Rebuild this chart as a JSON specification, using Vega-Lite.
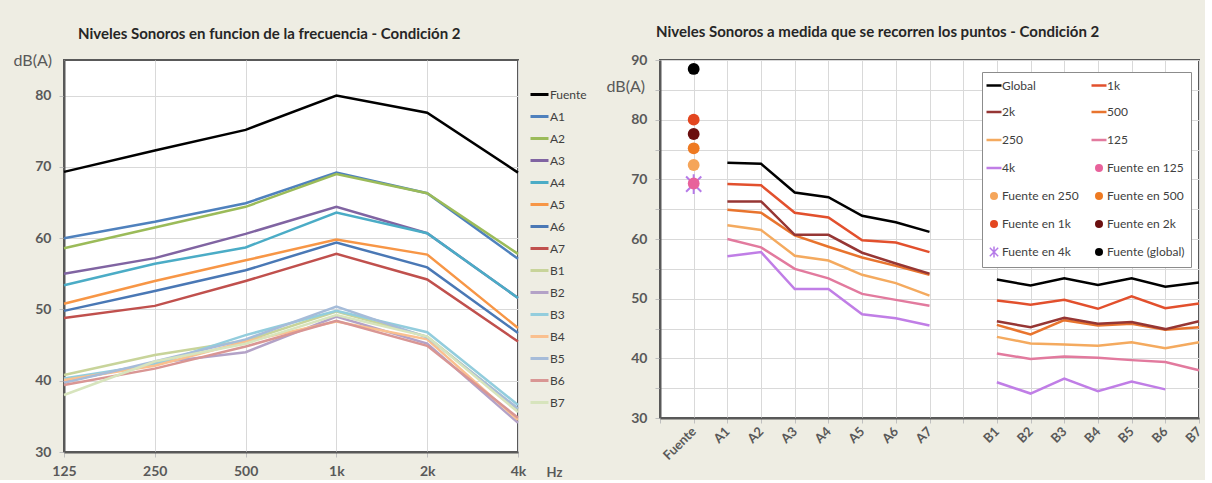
{
 "$schema": "https://vega.github.io/schema/vega-lite/v6.json",
 "padding": {"left": 12, "top": 24, "right": 0, "bottom": 0},
 "spacing": 17,
 "datasets": {
  "m": [
   {"p":"Fuente","g":"F","f":"125","v":69.3},{"p":"Fuente","g":"F","f":"250","v":72.3},{"p":"Fuente","g":"F","f":"500","v":75.2},{"p":"Fuente","g":"F","f":"1k","v":80.0},{"p":"Fuente","g":"F","f":"2k","v":77.6},{"p":"Fuente","g":"F","f":"4k","v":69.2},
   {"p":"A1","g":"A","f":"125","v":60.0},{"p":"A1","g":"A","f":"250","v":62.3},{"p":"A1","g":"A","f":"500","v":64.9},{"p":"A1","g":"A","f":"1k","v":69.2},{"p":"A1","g":"A","f":"2k","v":66.3},{"p":"A1","g":"A","f":"4k","v":57.1},
   {"p":"A2","g":"A","f":"125","v":58.6},{"p":"A2","g":"A","f":"250","v":61.5},{"p":"A2","g":"A","f":"500","v":64.4},{"p":"A2","g":"A","f":"1k","v":69.0},{"p":"A2","g":"A","f":"2k","v":66.3},{"p":"A2","g":"A","f":"4k","v":57.8},
   {"p":"A3","g":"A","f":"125","v":55.0},{"p":"A3","g":"A","f":"250","v":57.2},{"p":"A3","g":"A","f":"500","v":60.6},{"p":"A3","g":"A","f":"1k","v":64.4},{"p":"A3","g":"A","f":"2k","v":60.7},{"p":"A3","g":"A","f":"4k","v":51.6},
   {"p":"A4","g":"A","f":"125","v":53.4},{"p":"A4","g":"A","f":"250","v":56.4},{"p":"A4","g":"A","f":"500","v":58.7},{"p":"A4","g":"A","f":"1k","v":63.6},{"p":"A4","g":"A","f":"2k","v":60.7},{"p":"A4","g":"A","f":"4k","v":51.6},
   {"p":"A5","g":"A","f":"125","v":50.8},{"p":"A5","g":"A","f":"250","v":54.0},{"p":"A5","g":"A","f":"500","v":56.9},{"p":"A5","g":"A","f":"1k","v":59.8},{"p":"A5","g":"A","f":"2k","v":57.7},{"p":"A5","g":"A","f":"4k","v":47.4},
   {"p":"A6","g":"A","f":"125","v":49.8},{"p":"A6","g":"A","f":"250","v":52.6},{"p":"A6","g":"A","f":"500","v":55.5},{"p":"A6","g":"A","f":"1k","v":59.4},{"p":"A6","g":"A","f":"2k","v":55.9},{"p":"A6","g":"A","f":"4k","v":46.7},
   {"p":"A7","g":"A","f":"125","v":48.8},{"p":"A7","g":"A","f":"250","v":50.5},{"p":"A7","g":"A","f":"500","v":54.0},{"p":"A7","g":"A","f":"1k","v":57.8},{"p":"A7","g":"A","f":"2k","v":54.2},{"p":"A7","g":"A","f":"4k","v":45.5},
   {"p":"B1","g":"B","f":"125","v":40.8},{"p":"B1","g":"B","f":"250","v":43.6},{"p":"B1","g":"B","f":"500","v":45.6},{"p":"B1","g":"B","f":"1k","v":49.7},{"p":"B1","g":"B","f":"2k","v":46.2},{"p":"B1","g":"B","f":"4k","v":36.0},
   {"p":"B2","g":"B","f":"125","v":39.9},{"p":"B2","g":"B","f":"250","v":42.5},{"p":"B2","g":"B","f":"500","v":44.0},{"p":"B2","g":"B","f":"1k","v":49.0},{"p":"B2","g":"B","f":"2k","v":45.2},{"p":"B2","g":"B","f":"4k","v":34.1},
   {"p":"B3","g":"B","f":"125","v":40.3},{"p":"B3","g":"B","f":"250","v":42.3},{"p":"B3","g":"B","f":"500","v":46.4},{"p":"B3","g":"B","f":"1k","v":49.8},{"p":"B3","g":"B","f":"2k","v":46.8},{"p":"B3","g":"B","f":"4k","v":36.6},
   {"p":"B4","g":"B","f":"125","v":40.1},{"p":"B4","g":"B","f":"250","v":42.1},{"p":"B4","g":"B","f":"500","v":45.5},{"p":"B4","g":"B","f":"1k","v":48.3},{"p":"B4","g":"B","f":"2k","v":45.8},{"p":"B4","g":"B","f":"4k","v":34.5},
   {"p":"B5","g":"B","f":"125","v":39.7},{"p":"B5","g":"B","f":"250","v":42.7},{"p":"B5","g":"B","f":"500","v":45.8},{"p":"B5","g":"B","f":"1k","v":50.4},{"p":"B5","g":"B","f":"2k","v":46.1},{"p":"B5","g":"B","f":"4k","v":36.1},
   {"p":"B6","g":"B","f":"125","v":39.4},{"p":"B6","g":"B","f":"250","v":41.7},{"p":"B6","g":"B","f":"500","v":44.8},{"p":"B6","g":"B","f":"1k","v":48.4},{"p":"B6","g":"B","f":"2k","v":44.9},{"p":"B6","g":"B","f":"4k","v":34.8},
   {"p":"B7","g":"B","f":"125","v":38.0},{"p":"B7","g":"B","f":"250","v":42.7},{"p":"B7","g":"B","f":"500","v":45.2},{"p":"B7","g":"B","f":"1k","v":49.2},{"p":"B7","g":"B","f":"2k","v":46.2},{"p":"B7","g":"B","f":"4k","v":35.6},
   {"p":"A1","g":"A","f":"Global","v":72.8},{"p":"A2","g":"A","f":"Global","v":72.6},{"p":"A3","g":"A","f":"Global","v":67.8},{"p":"A4","g":"A","f":"Global","v":67.0},{"p":"A5","g":"A","f":"Global","v":63.9},{"p":"A6","g":"A","f":"Global","v":62.8},{"p":"A7","g":"A","f":"Global","v":61.2},
   {"p":"B1","g":"B","f":"Global","v":53.2},{"p":"B2","g":"B","f":"Global","v":52.2},{"p":"B3","g":"B","f":"Global","v":53.4},{"p":"B4","g":"B","f":"Global","v":52.3},{"p":"B5","g":"B","f":"Global","v":53.4},{"p":"B6","g":"B","f":"Global","v":52.0},{"p":"B7","g":"B","f":"Global","v":52.7}
  ],
  "src": [
   {"p":"Fuente","s":"Fuente en 125","v":69.3},
   {"p":"Fuente","s":"Fuente en 250","v":72.4},
   {"p":"Fuente","s":"Fuente en 500","v":75.2},
   {"p":"Fuente","s":"Fuente en 1k","v":80.0},
   {"p":"Fuente","s":"Fuente en 2k","v":77.6},
   {"p":"Fuente","s":"Fuente en 4k","v":69.2},
   {"p":"Fuente","s":"Fuente (global)","v":88.5}
  ]
 },
 "hconcat": [
  {
   "width": 454, "height": 392,
   "title": {"text": "Niveles Sonoros en funcion de la frecuencia - Condición 2", "anchor": "start", "frame": "group", "dx": 14, "offset": 10},
   "data": {"name": "m"},
   "transform": [{"filter": "datum.f != 'Global'"}],
   "mark": {"type": "line", "strokeWidth": 2.5},
   "encoding": {
    "x": {"field": "f", "type": "ordinal", "scale": {"type": "point", "padding": 0, "domain": ["125","250","500","1k","2k","4k"]},
          "axis": {"title": "Hz", "titleX": 482, "titleY": 20, "titleAlign": "left", "titleBaseline": "middle", "titleFontSize": 13, "titleFontWeight": "bold", "labelAngle": 0, "labelPadding": 7, "grid": true}},
    "y": {"field": "v", "type": "quantitative", "scale": {"domain": [30, 85], "nice": false, "zero": false},
          "axis": {"title": "dB(A)", "titleAngle": 0, "titleX": -51, "titleY": 0, "titleAlign": "left", "titleBaseline": "middle", "titleFontSize": 16, "values": [30,40,50,60,70,80], "labelPadding": 8, "grid": true}},
    "color": {"field": "p", "type": "nominal",
      "scale": {"domain": ["Fuente","A1","A2","A3","A4","A5","A6","A7","B1","B2","B3","B4","B5","B6","B7"],
                "range": ["#000000","#4f81bd","#9bbb59","#8064a2","#4bacc6","#f79646","#4a78b5","#c0504d","#c8d49a","#b3a2c7","#93cddd","#fac08f","#a6bcd9","#d99694","#d7e4bd"]},
      "legend": {"title": null, "orient": "none", "legendX": 465, "legendY": 24, "symbolType": "stroke", "symbolSize": 324, "symbolStrokeWidth": 3, "labelOffset": 0, "rowPadding": 5, "labelFontSize": 12, "labelColor": "#404040", "labelFont": "Lato", "padding": 0}}
   }
  },
  {
   "width": 539, "height": 358,
   "title": {"text": "Niveles Sonoros a medida que se recorren los puntos - Condición 2", "anchor": "start", "frame": "group", "dx": -4, "offset": 13},
   "encoding": {
    "x": {"field": "p", "type": "ordinal", "scale": {"type": "point", "padding": 0, "domain": ["_0","Fuente","A1","A2","A3","A4","A5","A6","A7","_gap","B1","B2","B3","B4","B5","B6","B7"]},
          "axis": {"title": null, "labelAngle": -45, "labelAlign": "right", "labelBaseline": "middle", "labelPadding": 6, "labelFontSize": 13, "grid": true, "labelExpr": "indexof(datum.value, '_') == 0 ? '' : datum.label"}},
    "y": {"field": "v", "type": "quantitative", "scale": {"domain": [30, 90], "nice": false, "zero": false},
          "axis": {"title": "dB(A)", "titleAngle": 0, "titleX": -54, "titleY": 26, "titleAlign": "left", "titleBaseline": "middle", "titleFontSize": 16, "values": [30,35,40,45,50,55,60,65,70,75,80,85,90], "labelExpr": "datum.value % 10 == 0 ? datum.label : ''", "labelPadding": 8, "grid": true}}
   },
   "layer": [
    {
     "data": {"name": "m"},
     "transform": [{"filter": "datum.p != 'Fuente' && !(datum.p == 'B7' && datum.f == '4k')"}],
     "mark": {"type": "line", "strokeWidth": 2.5},
     "encoding": {
      "color": {"field": "f", "type": "nominal",
        "scale": {"domain": ["Global","2k","250","4k","Fuente en 250","Fuente en 1k","Fuente en 4k","1k","500","125","Fuente en 125","Fuente en 500","Fuente en 2k","Fuente (global)"],
                  "range": ["#000000","#963634","#f4aa5f","#c07ee6","#f5a55a","#e3461f","#b57ae8","#e2502d","#e8742e","#e27a9e","#e8629b","#ee7a22","#6b0f0f","#000000"]},
        "legend": {"title": null, "orient": "none", "legendX": 322, "legendY": 12, "columns": 2, "gridAlign": "all",
          "fillColor": "white", "strokeColor": "#8c8c8c", "padding": 6, "cornerRadius": 0,
          "symbolType": "stroke", "symbolSize": 225, "symbolStrokeWidth": 2.5,
          "labelFontSize": 12, "labelColor": "#404040", "labelFont": "Lato", "labelOffset": 2, "rowPadding": 10, "columnPadding": 6,
          "encode": {"symbols": {"update": {
            "shape": {"signal": "indexof(['Global','1k','2k','500','250','125','4k'], datum.value) >= 0 ? 'stroke' : (datum.value == 'Fuente en 4k' ? 'M-1,-1L1,1M-1,1L1,-1M0,-1.3L0,1.3' : 'circle')"},
            "size": {"signal": "indexof(['Global','1k','2k','500','250','125','4k'], datum.value) >= 0 ? 225 : (datum.value == 'Fuente en 4k' ? 70 : 64)"},
            "fill": {"signal": "indexof(['Global','1k','2k','500','250','125','4k','Fuente en 4k'], datum.value) >= 0 ? 'transparent' : ({'Fuente en 125':'#e8629b','Fuente en 250':'#f5a55a','Fuente en 500':'#ee7a22','Fuente en 1k':'#e3461f','Fuente en 2k':'#6b0f0f','Fuente (global)':'#000000'})[datum.value]"},
            "stroke": {"signal": "({'Global':'#000000','1k':'#e2502d','2k':'#963634','500':'#e8742e','250':'#f4aa5f','125':'#e27a9e','4k':'#c07ee6','Fuente en 125':'#e8629b','Fuente en 250':'#f5a55a','Fuente en 500':'#ee7a22','Fuente en 1k':'#e3461f','Fuente en 2k':'#6b0f0f','Fuente en 4k':'#b57ae8','Fuente (global)':'#000000'})[datum.value]"},
            "strokeWidth": {"signal": "indexof(['Global','1k','2k','500','250','125','4k'], datum.value) >= 0 ? 2.5 : (datum.value == 'Fuente en 4k' ? 1.5 : 0)"},
            "opacity": {"value": 1}
          }}}}
      },
      "detail": {"field": "g", "type": "nominal"}
     }
    },
    {
     "data": {"name": "src"},
     "transform": [{"filter": "datum.s == 'Fuente en 4k'"}],
     "mark": {"type": "point", "shape": "M-1,-1L1,1M-1,1L1,-1M0,-1.3L0,1.3", "filled": false, "size": 230, "strokeWidth": 2, "opacity": 1},
     "encoding": {
      "color": {"field": "s", "type": "nominal",
        "scale": {"domain": ["Global","2k","250","4k","Fuente en 250","Fuente en 1k","Fuente en 4k","1k","500","125","Fuente en 125","Fuente en 500","Fuente en 2k","Fuente (global)"],
                  "range": ["#000000","#963634","#f4aa5f","#c07ee6","#f5a55a","#e3461f","#b57ae8","#e2502d","#e8742e","#e27a9e","#e8629b","#ee7a22","#6b0f0f","#000000"]}}
     }
    },
    {
     "data": {"name": "src"},
     "transform": [{"filter": "datum.s != 'Fuente en 4k'"}],
     "mark": {"type": "point", "shape": "circle", "filled": true, "size": 140, "opacity": 1},
     "encoding": {
      "color": {"field": "s", "type": "nominal",
        "scale": {"domain": ["Global","2k","250","4k","Fuente en 250","Fuente en 1k","Fuente en 4k","1k","500","125","Fuente en 125","Fuente en 500","Fuente en 2k","Fuente (global)"],
                  "range": ["#000000","#963634","#f4aa5f","#c07ee6","#f5a55a","#e3461f","#b57ae8","#e2502d","#e8742e","#e27a9e","#e8629b","#ee7a22","#6b0f0f","#000000"]}}
     }
    }
   ]
  }
 ],
 "resolve": {"scale": {"color": "independent", "x": "independent", "y": "independent"}, "legend": {"color": "independent"}},
 "config": {
  "background": "#eeede3",
  "view": {"fill": "white", "stroke": "#595959", "strokeWidth": 2},
  "font": "Lato",
  "title": {"font": "Lato", "fontSize": 15, "fontWeight": "bold", "color": "#262626"},
  "axis": {"labelFont": "Lato", "labelFontSize": 14, "labelFontWeight": "bold", "labelColor": "#595959", "gridColor": "#d9d9d9", "gridWidth": 1, "tickColor": "#bfbfbf", "tickSize": 5, "domainColor": "#595959", "domainWidth": 2, "titleFont": "Lato", "titleColor": "#595959", "titleFontWeight": "normal"}
 }
}
